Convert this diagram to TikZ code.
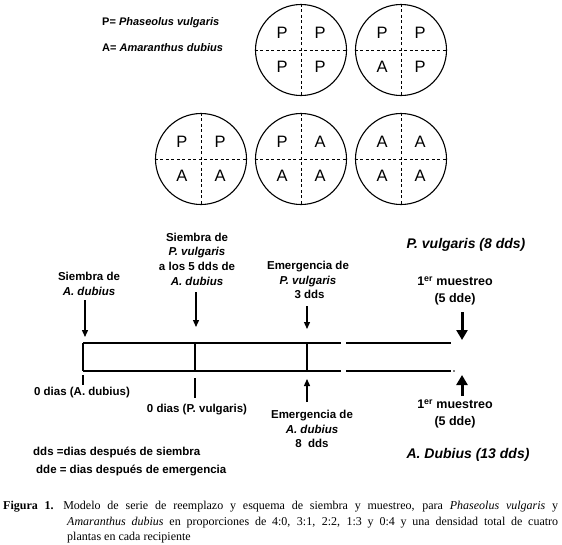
\documentclass[tikz,border=0pt]{standalone}
\usepackage{fontspec}
\setmainfont{Liberation Serif}
\newfontfamily\arialf{Liberation Sans}
\usetikzlibrary{arrows.meta,positioning}

\begin{document}
\begin{tikzpicture}[
  x=1pt,y=-1pt,
  lbl/.style={font=\arialf\bfseries\fontsize{11.5}{14.6}\selectfont,align=center,inner sep=0pt},
  key/.style={font=\arialf\bfseries\fontsize{11}{13}\selectfont,inner sep=0pt,anchor=west},
  big/.style={font=\arialf\bfseries\fontsize{12.5}{16.5}\selectfont,align=center,inner sep=0pt},
  spp/.style={font=\arialf\bfseries\itshape\fontsize{14}{16}\selectfont,inner sep=0pt},
  captxt/.style={font=\fontsize{12}{15.5}\selectfont,inner sep=0pt,anchor=base west},
  pot/.style={circle,draw,line width=1.1pt,minimum size=91pt,inner sep=0pt},
  quad/.style={font=\arialf\fontsize{16.5}{18}\selectfont,inner sep=0pt},
  divide/.style={dash pattern=on 3pt off 2.5pt,line width=1pt},
  tline/.style={line width=1.4pt},
  tlinebold/.style={line width=2.4pt},
  sowarr/.style={-{Triangle[length=7pt,width=6pt]},line width=1.3pt},
  samplearr/.style={-{Triangle[length=10pt,width=11pt]},line width=3pt}
]
\useasboundingbox (0,0) rectangle (562,544);

% 1. Key and the five pots (P = Phaseolus, A = Amaranthus).
\node[key] (keyP) at (102,23) {P= \textit{Phaseolus vulgaris}};
\node[key] (keyA) at (102,48) {A= \textit{Amaranthus dubius}};
\foreach \n/\cx/\cy/\qa/\qb/\qc/\qd in {1/301/50/P/P/P/P,2/401/50/P/P/A/P,
    3/201/159/P/P/A/A,4/301/159/P/A/A/A,5/401/159/A/A/A/A} {
  \node[pot] (pot\n) at (\cx,\cy) {};
  \draw[divide] (pot\n.north)--(pot\n.south);
  \draw[divide] (pot\n.west)--(pot\n.east);
  \node[quad] (pot\n-a) at ([shift={(-19,-17)}]pot\n.center) {\qa};
  \node[quad] (pot\n-b) at ([shift={(19,-17)}]pot\n.center) {\qb};
  \node[quad] (pot\n-c) at ([shift={(-19,17)}]pot\n.center) {\qc};
  \node[quad] (pot\n-d) at ([shift={(19,17)}]pot\n.center) {\qd};
}

% 2. Time line.
\draw[tline] (83,343)--(341,343) (83,371)--(341,371);
\draw[tline] (83,343)--(83,371) (195,343)--(195,371) (307,343)--(307,371);
\draw[tlinebold] (346,343)--(451,343) (346,371)--(451,371);
\foreach \x in {139,251} {\fill (\x,343) circle (.8) (\x,371) circle (.8);}
\fill (454,371) circle (.8);
\draw[line width=2.4pt] (83,375)--(83,385);
\draw[line width=2.4pt] (195,378)--(195,398);

% 3. Events above the line.
\node[lbl] (sowA) at (89,284) {Siembra de\\\textit{A. dubius}};
\node[lbl] (sowP) at (197,259) {Siembra de\\\textit{P. vulgaris}\\a los 5 dds de\\\textit{A. dubius}};
\node[lbl] (emP) at (308,280) {Emergencia de\\\textit{P. vulgaris}\\\ 3 dds};
\node[spp] (pv8) at (466,245) {P. vulgaris (8 dds)};
\node[big] (mu1) at (455,291) {1\textsuperscript{er} muestreo\\(5 dde)};
\coordinate (sowA-t) at (85,337);
\coordinate (sowP-t) at (196,327);
\coordinate (emP-t) at (307,329);
\coordinate (mu1-t) at (462,340);
\draw[sowarr] (85,300)--(sowA-t);
\draw[sowarr] (196,292)--(sowP-t);
\draw[sowarr] (307,306)--(emP-t);
\draw[samplearr] (462,312)--(mu1-t);

% 4. Events below the line.
\node[lbl] (zeroA) at (82,393) {0 dias (A. dubius)};
\node[lbl] (zeroP) at (197,410) {0 dias (P. vulgaris)};
\node[lbl] (emA) at (312,429) {Emergencia de\\\textit{A. dubius}\\8\ \ dds};
\node[big] (mu2) at (455,414) {1\textsuperscript{er} muestreo\\(5 dde)};
\node[spp] (ad13) at (468,455) {A. Dubius (13 dds)};
\coordinate (emA-t) at (307,379);
\coordinate (mu2-t) at (462,375);
\draw[sowarr] (307,402)--(emA-t);
\draw[samplearr] (462,396)--(mu2-t);

% 5. Abbreviations and caption.
\node[lbl,anchor=west] (dds) at (33,452) {dds =dias después de siembra};
\node[lbl,anchor=west] (dde) at (36,470) {dde = dias después de emergencia};
\node[captxt] (cap1) at (3,509) {\makebox[555pt][s]{\textbf{Figura 1.}\hspace{.8em}Modelo de serie de reemplazo y esquema de siembra y muestreo, para \textit{Phaseolus vulgaris} y}};
\node[captxt] (cap2) at (67,525) {\makebox[491pt][s]{\textit{Amaranthus dubius} en proporciones de 4:0, 3:1, 2:2, 1:3 y 0:4 y una densidad total de cuatro}};
\node[captxt] (cap3) at (67,540) {plantas en cada recipiente};

\end{tikzpicture}
\end{document}
